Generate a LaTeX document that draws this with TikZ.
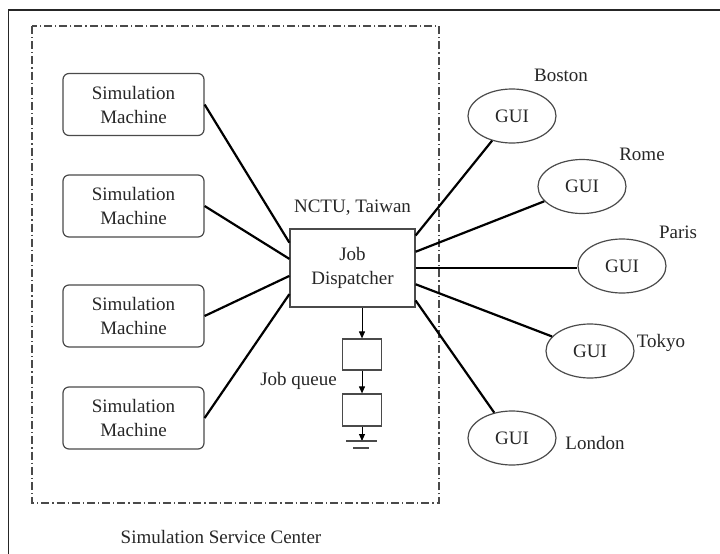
\documentclass[tikz,border=0pt]{standalone}
\usepackage{fontspec}
\setmainfont{Liberation Serif}
\usetikzlibrary{shapes.geometric,calc,arrows.meta}
\definecolor{ink}{HTML}{262626}
\definecolor{boxline}{HTML}{4A4A4A}
\tikzset{
  every node/.style={font=\fontsize{19}{24}\selectfont, text=ink},
  machine/.style={draw=boxline, line width=1.2pt, rounded corners=6pt, minimum width=141pt, minimum height=62pt, align=center, inner sep=0pt},
  dispbox/.style={draw=boxline, line width=1.2pt, minimum width=125pt, minimum height=78pt, align=center, inner sep=0pt},
  qbox/.style={draw=boxline, line width=1.2pt, minimum width=39pt, minimum height=31pt, inner sep=0pt},
  gui/.style={draw=boxline, line width=1.2pt, ellipse, minimum width=88pt, minimum height=54pt, inner sep=0pt},
  link/.style={draw=black, line width=2.2pt},
  qarrow/.style={draw=black, line width=1pt, -{Triangle[length=7pt,width=6pt]}},
  center/.style={draw=boxline, line width=1.3pt, dash pattern=on 8pt off 3pt on 1.2pt off 3pt},
  lbl/.style={inner sep=0pt}
}
\begin{document}
\begin{tikzpicture}[x=1pt,y=-1pt]
\useasboundingbox (0,0) rectangle (720,554);
% outer frame
\coordinate (fa) at (8.5,554);
\coordinate (fb) at (8.5,10);
\coordinate (fc) at (720,10);
\draw[line width=1.6pt, draw=ink] (fa) -- (fb) -- (fc);
% service center
\draw[center] (32,26) rectangle (439,503);
\node[lbl] (ssc) at (221,537) {Simulation Service Center};
% machines
\node[machine] (m1) at (133.5,104.5) {Simulation\\Machine};
\node[machine] (m2) at (133.5,206) {Simulation\\Machine};
\node[machine] (m3) at (133.5,316) {Simulation\\Machine};
\node[machine] (m4) at (133.5,418) {Simulation\\Machine};
% dispatcher
\node[dispbox] (disp) at (352.5,268) {Job\\Dispatcher};
\node[lbl] (nctu) at (352.5,208) {NCTU, Taiwan};
% queue
\node[qbox] (q1) at (362,354.5) {};
\node[qbox, minimum height=32pt] (q2) at (362,410) {};
\node[lbl, anchor=east] (jq) at (337,381) {Job queue};
\coordinate (g) at (362,441);
\draw[qarrow] (disp.south -| q1.north) -- (q1.north);
\draw[qarrow] (q1.south) -- (q2.north);
\draw[qarrow] (q2.south) -- (g);
\draw[line width=1.2pt, draw=boxline] ([xshift=-16pt]g) -- ([xshift=15pt]g);
\draw[line width=1.2pt, draw=boxline] ([xshift=-9pt,yshift=-7pt]g) -- ([xshift=7pt,yshift=-7pt]g);
% GUIs
\node[gui] (boston) at (512,116) {GUI};
\node[gui] (rome) at (582,186.5) {GUI};
\node[gui] (paris) at (622,266) {GUI};
\node[gui] (tokyo) at (590,351) {GUI};
\node[gui] (london) at (512,438) {GUI};
\node[lbl] (lboston) at (561,75) {Boston};
\node[lbl] (lrome) at (642,154) {Rome};
\node[lbl] (lparis) at (678,232) {Paris};
\node[lbl] (ltokyo) at (661,343) {Tokyo};
\node[lbl] (llondon) at (595,443) {London};
% links machines -> dispatcher
\draw[link] (m1.east) -- ($(disp.north west)!0.18!(disp.south west)$);
\draw[link] (m2.east) -- ($(disp.north west)!0.385!(disp.south west)$);
\draw[link] (m3.east) -- ($(disp.north west)!0.60!(disp.south west)$);
\draw[link] (m4.east) -- ($(disp.north west)!0.83!(disp.south west)$);
% links dispatcher -> GUIs
\draw[link] ($(disp.north east)!0.09!(disp.south east)$) -- (boston);
\draw[link] ($(disp.north east)!0.295!(disp.south east)$) -- (rome);
\draw[link] (disp.east) -- (disp.east -| paris.west);
\draw[link] ($(disp.north east)!0.705!(disp.south east)$) -- (tokyo);
\draw[link] ($(disp.north east)!0.91!(disp.south east)$) -- (london);
\end{tikzpicture}
\end{document}
